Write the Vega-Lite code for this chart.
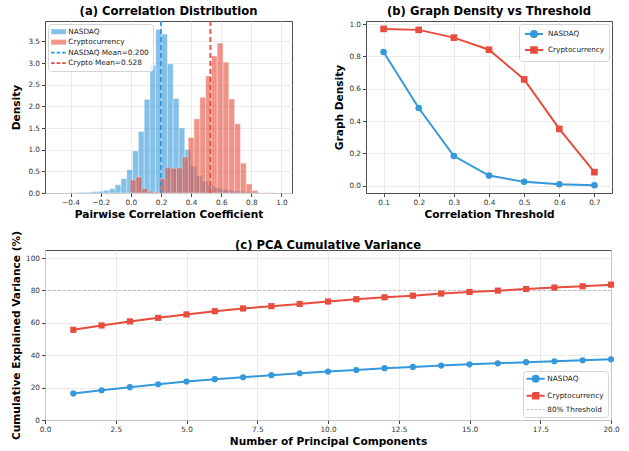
{
  "$schema": "https://vega.github.io/schema/vega-lite/v6.json",
  "padding": {"left": 11, "top": 5, "right": 5, "bottom": 2},
  "spacing": 9,
  "resolve": {"scale": {"color": "independent"}, "legend": {"color": "independent"}},
  "datasets": {
    "hist": [
      {"s": "NASDAQ", "x0": -0.4505, "x1": -0.412, "d": 0.003},
      {"s": "NASDAQ", "x0": -0.412, "x1": -0.3735, "d": 0.005},
      {"s": "NASDAQ", "x0": -0.3735, "x1": -0.335, "d": 0.01},
      {"s": "NASDAQ", "x0": -0.335, "x1": -0.2965, "d": 0.015},
      {"s": "NASDAQ", "x0": -0.2965, "x1": -0.258, "d": 0.02},
      {"s": "NASDAQ", "x0": -0.258, "x1": -0.2195, "d": 0.03},
      {"s": "NASDAQ", "x0": -0.2195, "x1": -0.181, "d": 0.04},
      {"s": "NASDAQ", "x0": -0.181, "x1": -0.1425, "d": 0.06},
      {"s": "NASDAQ", "x0": -0.1425, "x1": -0.104, "d": 0.1},
      {"s": "NASDAQ", "x0": -0.104, "x1": -0.0655, "d": 0.19},
      {"s": "NASDAQ", "x0": -0.0655, "x1": -0.027, "d": 0.33},
      {"s": "NASDAQ", "x0": -0.027, "x1": 0.0115, "d": 0.54},
      {"s": "NASDAQ", "x0": 0.0115, "x1": 0.05, "d": 0.97},
      {"s": "NASDAQ", "x0": 0.05, "x1": 0.0885, "d": 1.42},
      {"s": "NASDAQ", "x0": 0.0885, "x1": 0.127, "d": 2.16},
      {"s": "NASDAQ", "x0": 0.127, "x1": 0.1655, "d": 2.95},
      {"s": "NASDAQ", "x0": 0.1655, "x1": 0.204, "d": 3.78},
      {"s": "NASDAQ", "x0": 0.204, "x1": 0.2425, "d": 3.67},
      {"s": "NASDAQ", "x0": 0.2425, "x1": 0.281, "d": 2.98},
      {"s": "NASDAQ", "x0": 0.281, "x1": 0.3195, "d": 2.18},
      {"s": "NASDAQ", "x0": 0.3195, "x1": 0.358, "d": 1.5},
      {"s": "NASDAQ", "x0": 0.358, "x1": 0.3965, "d": 1.0},
      {"s": "NASDAQ", "x0": 0.3965, "x1": 0.435, "d": 0.62},
      {"s": "NASDAQ", "x0": 0.435, "x1": 0.4735, "d": 0.4},
      {"s": "NASDAQ", "x0": 0.4735, "x1": 0.512, "d": 0.27},
      {"s": "NASDAQ", "x0": 0.512, "x1": 0.5505, "d": 0.18},
      {"s": "NASDAQ", "x0": 0.5505, "x1": 0.589, "d": 0.12},
      {"s": "NASDAQ", "x0": 0.589, "x1": 0.6275, "d": 0.09},
      {"s": "NASDAQ", "x0": 0.6275, "x1": 0.666, "d": 0.07},
      {"s": "NASDAQ", "x0": 0.666, "x1": 0.7045, "d": 0.05},
      {"s": "NASDAQ", "x0": 0.7045, "x1": 0.743, "d": 0.04},
      {"s": "NASDAQ", "x0": 0.743, "x1": 0.7815, "d": 0.03},
      {"s": "NASDAQ", "x0": 0.7815, "x1": 0.82, "d": 0.02},
      {"s": "NASDAQ", "x0": 0.82, "x1": 0.8585, "d": 0.01},
      {"s": "NASDAQ", "x0": 0.8585, "x1": 0.897, "d": 0.005},
      {"s": "Cryptocurrency", "x0": -0.004, "x1": 0.0345, "d": 0.3},
      {"s": "Cryptocurrency", "x0": 0.0345, "x1": 0.073, "d": 0.37},
      {"s": "Cryptocurrency", "x0": 0.073, "x1": 0.1115, "d": 0.1},
      {"s": "Cryptocurrency", "x0": 0.1115, "x1": 0.15, "d": 0.04},
      {"s": "Cryptocurrency", "x0": 0.15, "x1": 0.1885, "d": 0.02},
      {"s": "Cryptocurrency", "x0": 0.1885, "x1": 0.227, "d": 0.33},
      {"s": "Cryptocurrency", "x0": 0.227, "x1": 0.2655, "d": 0.59},
      {"s": "Cryptocurrency", "x0": 0.2655, "x1": 0.304, "d": 0.57},
      {"s": "Cryptocurrency", "x0": 0.304, "x1": 0.3425, "d": 0.58},
      {"s": "Cryptocurrency", "x0": 0.3425, "x1": 0.381, "d": 0.83},
      {"s": "Cryptocurrency", "x0": 0.381, "x1": 0.4195, "d": 1.28},
      {"s": "Cryptocurrency", "x0": 0.4195, "x1": 0.458, "d": 1.71},
      {"s": "Cryptocurrency", "x0": 0.458, "x1": 0.4965, "d": 2.21},
      {"s": "Cryptocurrency", "x0": 0.4965, "x1": 0.535, "d": 2.7},
      {"s": "Cryptocurrency", "x0": 0.535, "x1": 0.5735, "d": 3.16},
      {"s": "Cryptocurrency", "x0": 0.5735, "x1": 0.612, "d": 3.46},
      {"s": "Cryptocurrency", "x0": 0.612, "x1": 0.6505, "d": 3.02},
      {"s": "Cryptocurrency", "x0": 0.6505, "x1": 0.689, "d": 2.17},
      {"s": "Cryptocurrency", "x0": 0.689, "x1": 0.7275, "d": 1.6},
      {"s": "Cryptocurrency", "x0": 0.7275, "x1": 0.766, "d": 0.69},
      {"s": "Cryptocurrency", "x0": 0.766, "x1": 0.8045, "d": 0.21},
      {"s": "Cryptocurrency", "x0": 0.8045, "x1": 0.843, "d": 0.06},
      {"s": "Cryptocurrency", "x0": 0.8815, "x1": 0.92, "d": 0.005},
      {"s": "Cryptocurrency", "x0": 0.92, "x1": 0.9585, "d": 0.01}
    ],
    "means": [
      {"s": "NASDAQ Mean=0.200", "m": 0.2},
      {"s": "Crypto Mean=0.528", "m": 0.528}
    ],
    "dens": [
      {"series": "NASDAQ", "t": 0.1, "v": 0.828},
      {"series": "NASDAQ", "t": 0.2, "v": 0.481},
      {"series": "NASDAQ", "t": 0.3, "v": 0.183},
      {"series": "NASDAQ", "t": 0.4, "v": 0.062},
      {"series": "NASDAQ", "t": 0.5, "v": 0.023},
      {"series": "NASDAQ", "t": 0.6, "v": 0.008},
      {"series": "NASDAQ", "t": 0.7, "v": 0.002},
      {"series": "Cryptocurrency", "t": 0.1, "v": 0.971},
      {"series": "Cryptocurrency", "t": 0.2, "v": 0.965},
      {"series": "Cryptocurrency", "t": 0.3, "v": 0.917},
      {"series": "Cryptocurrency", "t": 0.4, "v": 0.842},
      {"series": "Cryptocurrency", "t": 0.5, "v": 0.658},
      {"series": "Cryptocurrency", "t": 0.6, "v": 0.351},
      {"series": "Cryptocurrency", "t": 0.7, "v": 0.083}
    ],
    "pca": [
      {"series": "NASDAQ", "k": 1, "v": 16.4},
      {"series": "NASDAQ", "k": 2, "v": 18.4},
      {"series": "NASDAQ", "k": 3, "v": 20.3},
      {"series": "NASDAQ", "k": 4, "v": 22.1},
      {"series": "NASDAQ", "k": 5, "v": 23.8},
      {"series": "NASDAQ", "k": 6, "v": 25.2},
      {"series": "NASDAQ", "k": 7, "v": 26.4},
      {"series": "NASDAQ", "k": 8, "v": 27.7},
      {"series": "NASDAQ", "k": 9, "v": 28.9},
      {"series": "NASDAQ", "k": 10, "v": 29.9},
      {"series": "NASDAQ", "k": 11, "v": 30.9},
      {"series": "NASDAQ", "k": 12, "v": 32.0},
      {"series": "NASDAQ", "k": 13, "v": 32.8},
      {"series": "NASDAQ", "k": 14, "v": 33.6},
      {"series": "NASDAQ", "k": 15, "v": 34.4},
      {"series": "NASDAQ", "k": 16, "v": 35.0},
      {"series": "NASDAQ", "k": 17, "v": 35.7},
      {"series": "NASDAQ", "k": 18, "v": 36.3},
      {"series": "NASDAQ", "k": 19, "v": 36.9},
      {"series": "NASDAQ", "k": 20, "v": 37.5},
      {"series": "Cryptocurrency", "k": 1, "v": 55.7},
      {"series": "Cryptocurrency", "k": 2, "v": 58.4},
      {"series": "Cryptocurrency", "k": 3, "v": 60.9},
      {"series": "Cryptocurrency", "k": 4, "v": 63.1},
      {"series": "Cryptocurrency", "k": 5, "v": 65.2},
      {"series": "Cryptocurrency", "k": 6, "v": 67.2},
      {"series": "Cryptocurrency", "k": 7, "v": 68.9},
      {"series": "Cryptocurrency", "k": 8, "v": 70.3},
      {"series": "Cryptocurrency", "k": 9, "v": 71.7},
      {"series": "Cryptocurrency", "k": 10, "v": 73.2},
      {"series": "Cryptocurrency", "k": 11, "v": 74.6},
      {"series": "Cryptocurrency", "k": 12, "v": 75.8},
      {"series": "Cryptocurrency", "k": 13, "v": 76.8},
      {"series": "Cryptocurrency", "k": 14, "v": 78.1},
      {"series": "Cryptocurrency", "k": 15, "v": 79.1},
      {"series": "Cryptocurrency", "k": 16, "v": 79.9},
      {"series": "Cryptocurrency", "k": 17, "v": 80.9},
      {"series": "Cryptocurrency", "k": 18, "v": 81.8},
      {"series": "Cryptocurrency", "k": 19, "v": 82.6},
      {"series": "Cryptocurrency", "k": 20, "v": 83.6}
    ],
    "thr": [
      {"series": "80% Threshold", "v": 80}
    ]
  },
  "config": {
    "font": "DejaVu Sans",
    "view": {"stroke": "#4d4d4d", "strokeWidth": 1},
    "axis": {
      "labelFont": "DejaVu Sans", "labelFontSize": 7.3, "labelColor": "#333333", "labelFlush": false,
      "titleFont": "DejaVu Sans", "titleFontSize": 10.6, "titleFontWeight": "bold", "titleColor": "#000000",
      "gridColor": "#e6e6e6", "gridWidth": 0.8, "domain": false, "tickCount": 40,
      "tickColor": "#444444", "tickSize": 3.5, "labelPadding": 2, "titlePadding": 4
    },
    "title": {"font": "DejaVu Sans", "fontSize": 11.6, "fontWeight": "bold", "color": "#000000", "offset": 3, "frame": "group", "anchor": "middle"},
    "legend": {
      "labelFont": "DejaVu Sans", "labelFontSize": 7.3, "labelColor": "#222222",
      "padding": 4, "strokeColor": "#d4d4d4", "fillColor": "rgba(255,255,255,0.8)", "cornerRadius": 3,
      "rowPadding": 2, "offset": 3
    }
  },
  "vconcat": [
    {
      "hconcat": [
        {
          "width": 247, "height": 172,
          "title": "(a) Correlation Distribution",
          "layer": [
            {
              "data": {"name": "hist"},
              "mark": {"type": "rect", "opacity": 0.6, "stroke": "#ffffff", "strokeWidth": 0.4},
              "encoding": {
                "x": {"field": "x0", "type": "quantitative", "scale": {"domain": [-0.57, 1.07], "nice": false, "zero": false},
                      "axis": {"title": "Pairwise Correlation Coefficient", "values": [-0.4, -0.2, 0, 0.2, 0.4, 0.6, 0.8, 1.0], "format": ".1f", "tickCount": 40}},
                "x2": {"field": "x1"},
                "y": {"field": "d", "type": "quantitative", "scale": {"domain": [0, 3.97], "nice": false},
                      "axis": {"title": "Density", "values": [0, 0.5, 1, 1.5, 2, 2.5, 3, 3.5], "format": ".1f", "titlePadding": 6, "tickCount": 40}},
                "y2": {"datum": 0},
                "color": {"field": "s", "type": "nominal",
                          "scale": {"domain": ["NASDAQ", "Cryptocurrency", "NASDAQ Mean=0.200", "Crypto Mean=0.528"], "range": ["#3498db", "#e74c3c", "#3498db", "#e74c3c"]},
                          "legend": {"title": null, "orient": "top-left", "symbolSize": 100, "symbolOffset": 3, "labelOffset": 6, "rowPadding": 2.5,
                                     "encode": {"symbols": {"update": {
                                       "shape": {"signal": "datum.value == 'NASDAQ' || datum.value == 'Cryptocurrency' ? 'M-1.5,-0.5H1.5V0.5H-1.5Z' : 'M-1.5,0H1.5'"},
                                       "fill": {"signal": "datum.value == 'NASDAQ' || datum.value == 'NASDAQ Mean=0.200' ? '#3498db' : '#e74c3c'"},
                                       "stroke": {"signal": "datum.value == 'NASDAQ' || datum.value == 'NASDAQ Mean=0.200' ? '#3498db' : '#e74c3c'"},
                                       "fillOpacity": {"value": 0.6},
                                       "opacity": {"value": 1},
                                       "strokeWidth": {"signal": "datum.value == 'NASDAQ' || datum.value == 'Cryptocurrency' ? 0 : 1.6"},
                                       "strokeDash": {"value": [3.5, 2]}
                                     }}}}}
              }
            },
            {
              "data": {"name": "means"},
              "mark": {"type": "rule", "strokeDash": [5, 3], "strokeWidth": 1.8},
              "encoding": {
                "x": {"field": "m", "type": "quantitative"},
                "color": {"field": "s", "type": "nominal",
                          "legend": {"title": null, "orient": "top-left", "symbolSize": 100, "symbolOffset": 3, "labelOffset": 6, "rowPadding": 2.5,
                                     "encode": {"symbols": {"update": {
                                       "shape": {"signal": "datum.value == 'NASDAQ' || datum.value == 'Cryptocurrency' ? 'M-1.5,-0.5H1.5V0.5H-1.5Z' : 'M-1.5,0H1.5'"},
                                       "fill": {"signal": "datum.value == 'NASDAQ' || datum.value == 'NASDAQ Mean=0.200' ? '#3498db' : '#e74c3c'"},
                                       "stroke": {"signal": "datum.value == 'NASDAQ' || datum.value == 'NASDAQ Mean=0.200' ? '#3498db' : '#e74c3c'"},
                                       "fillOpacity": {"value": 0.6},
                                       "opacity": {"value": 1},
                                       "strokeWidth": {"signal": "datum.value == 'NASDAQ' || datum.value == 'Cryptocurrency' ? 0 : 1.6"},
                                       "strokeDash": {"value": [3.5, 2]}
                                     }}}}}
              }
            }
          ]
        },
        {
          "width": 246, "height": 172,
          "title": "(b) Graph Density vs Threshold",
          "data": {"name": "dens"},
          "encoding": {
            "x": {"field": "t", "type": "quantitative", "scale": {"domain": [0.05, 0.75], "nice": false, "zero": false},
                  "axis": {"title": "Correlation Threshold", "values": [0.1, 0.2, 0.3, 0.4, 0.5, 0.6, 0.7], "format": ".1f", "tickCount": 40}},
            "y": {"field": "v", "type": "quantitative", "scale": {"domain": [-0.046, 1.02], "nice": false, "zero": false},
                  "axis": {"title": "Graph Density", "values": [0, 0.2, 0.4, 0.6, 0.8, 1.0], "format": ".1f", "tickCount": 40}},
            "color": {"field": "series", "type": "nominal",
                      "scale": {"domain": ["NASDAQ", "Cryptocurrency"], "range": ["#3498db", "#e74c3c"]},
                      "legend": {"title": null, "orient": "top-right", "symbolSize": 100, "symbolOffset": 5, "labelOffset": 8,
                                 "encode": {"symbols": {"update": {
                                   "shape": {"signal": "datum.value == 'NASDAQ' ? 'M-1.8,0H1.8M0.6,0A0.6,0.6,0,1,1,-0.6,0A0.6,0.6,0,1,1,0.6,0Z' : 'M-1.8,0H1.8M-0.55,-0.55H0.55V0.55H-0.55Z'"},
                                   "fill": {"signal": "datum.value == 'NASDAQ' ? '#3498db' : '#e74c3c'"},
                                   "stroke": {"signal": "datum.value == 'NASDAQ' ? '#3498db' : '#e74c3c'"},
                                   "fillOpacity": {"value": 1},
                                   "opacity": {"value": 1},
                                   "strokeWidth": {"value": 2}
                                 }}}}}
          },
          "layer": [
            {"mark": {"type": "line", "strokeWidth": 2}},
            {"transform": [{"filter": "datum.series == 'NASDAQ'"}],
             "mark": {"type": "point", "filled": true, "shape": "circle", "size": 44, "opacity": 1}},
            {"transform": [{"filter": "datum.series == 'Cryptocurrency'"}],
             "mark": {"type": "point", "filled": true, "shape": "square", "size": 44, "opacity": 1}}
          ]
        }
      ],
      "spacing": 74,
      "bounds": "flush",
      "resolve": {"scale": {"color": "independent"}, "legend": {"color": "independent"}}
    },
    {
      "width": 566, "height": 170,
      "title": {"text": "(c) PCA Cumulative Variance", "offset": -21},
      "encoding": {
        "color": {"field": "series", "type": "nominal",
                  "scale": {"domain": ["NASDAQ", "Cryptocurrency", "80% Threshold"], "range": ["#3498db", "#e74c3c", "#a6a6a6"]},
                  "legend": {"title": null, "orient": "bottom-right", "symbolSize": 100, "symbolOffset": 5, "labelOffset": 8,
                             "encode": {"symbols": {"update": {
                               "shape": {"signal": "datum.value == 'NASDAQ' ? 'M-1.8,0H1.8M0.6,0A0.6,0.6,0,1,1,-0.6,0A0.6,0.6,0,1,1,0.6,0Z' : datum.value == 'Cryptocurrency' ? 'M-1.8,0H1.8M-0.55,-0.55H0.55V0.55H-0.55Z' : 'M-1.8,0H1.8'"},
                               "fill": {"signal": "datum.value == 'NASDAQ' ? '#3498db' : datum.value == 'Cryptocurrency' ? '#e74c3c' : 'transparent'"},
                               "stroke": {"signal": "datum.value == 'NASDAQ' ? '#3498db' : datum.value == 'Cryptocurrency' ? '#e74c3c' : '#b0b0b0'"},
                               "fillOpacity": {"value": 1},
                               "opacity": {"value": 1},
                               "strokeWidth": {"signal": "datum.value == '80% Threshold' ? 0.8 : 2"},
                               "strokeDash": {"signal": "datum.value == '80% Threshold' ? [2.5, 1.5] : [100, 0]"}
                             }}}}}
      },
      "layer": [
        {
          "data": {"name": "thr"},
          "mark": {"type": "rule", "strokeDash": [3, 2], "strokeWidth": 0.8, "opacity": 0.8},
          "encoding": {
            "y": {"field": "v", "type": "quantitative", "scale": {"domain": [0, 105], "nice": false},
                  "axis": {"title": "Cumulative Explained Variance (%)", "values": [0, 20, 40, 60, 80, 100], "format": "d", "tickCount": 40}}
          }
        },
        {
          "data": {"name": "pca"},
          "encoding": {
            "x": {"field": "k", "type": "quantitative", "scale": {"domain": [0, 20], "nice": false, "zero": false},
                  "axis": {"title": "Number of Principal Components", "values": [0, 2.5, 5, 7.5, 10, 12.5, 15, 17.5, 20], "format": ".1f", "tickCount": 40}},
            "y": {"field": "v", "type": "quantitative"}
          },
          "layer": [
            {"mark": {"type": "line", "strokeWidth": 2}},
            {"transform": [{"filter": "datum.series == 'NASDAQ'"}],
             "mark": {"type": "point", "filled": true, "shape": "circle", "size": 38, "opacity": 1}},
            {"transform": [{"filter": "datum.series == 'Cryptocurrency'"}],
             "mark": {"type": "point", "filled": true, "shape": "square", "size": 38, "opacity": 1}}
          ]
        }
      ]
    }
  ]
}
